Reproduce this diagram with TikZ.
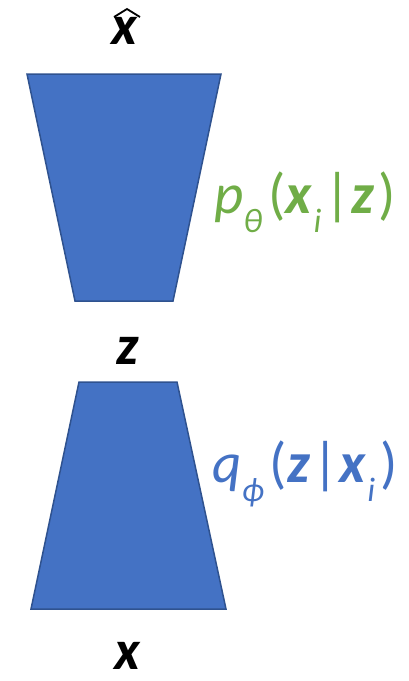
\documentclass[tikz,border=0pt]{standalone}
\usepackage{fontspec}
\setmainfont{Carlito}
\definecolor{fillblue}{HTML}{4472C4}
\definecolor{edgeblue}{HTML}{2F528F}
\definecolor{labgreen}{HTML}{70AD47}
\definecolor{labblue}{HTML}{4472C4}
\newcommand{\bi}[1]{\textbf{\textit{#1}}}
\newcommand{\sub}[1]{\raisebox{-0.34em}{\fontsize{34}{34}\selectfont\itshape #1}}
\begin{document}
\begin{tikzpicture}[x=1pt,y=-1pt,
  trap/.style={fill=fillblue,draw=edgeblue,line width=1.5pt,line join=miter},
  lab/.style={inner sep=0pt,font=\fontsize{57}{57}\selectfont},
  var/.style={inner sep=0pt,font=\fontsize{56}{56}\selectfont},
  hat/.style={draw=black,line width=1.8pt,line join=miter}]
\useasboundingbox (0,0) rectangle (408,681);
\draw[trap] (27,74) -- (221,74) -- (173,301) -- (75,301) -- cycle;
\draw[trap] (79,382) -- (177,382) -- (226,609) -- (31,609) -- cycle;
\node[var,anchor=base] (xhat) at (125,44) {\bi{x}};
\coordinate (hl) at (114,17);
\coordinate (ht) at (127,9);
\coordinate (hr) at (140,17);
\draw[hat] (hl) -- (ht) -- (hr);
\node[var,anchor=base] (z) at (128,364) {\bi{z}};
\node[var,anchor=base] (x) at (128,669) {\bi{x}};
\node[lab,anchor=base,text=labgreen] (p) at (305,213) {\itshape p\sub{θ}\kern6pt\upshape(\bi{x}\kern1pt\sub{i}\kern3pt|\kern1pt\bi{z}\kern4pt)};
\node[lab,anchor=base,text=labblue] (q) at (305,482) {\itshape q\sub{ϕ}\kern6pt\upshape(\bi{z}\kern2pt|\kern1pt\bi{x}\kern1pt\sub{i}\kern5pt)};
\end{tikzpicture}
\end{document}
